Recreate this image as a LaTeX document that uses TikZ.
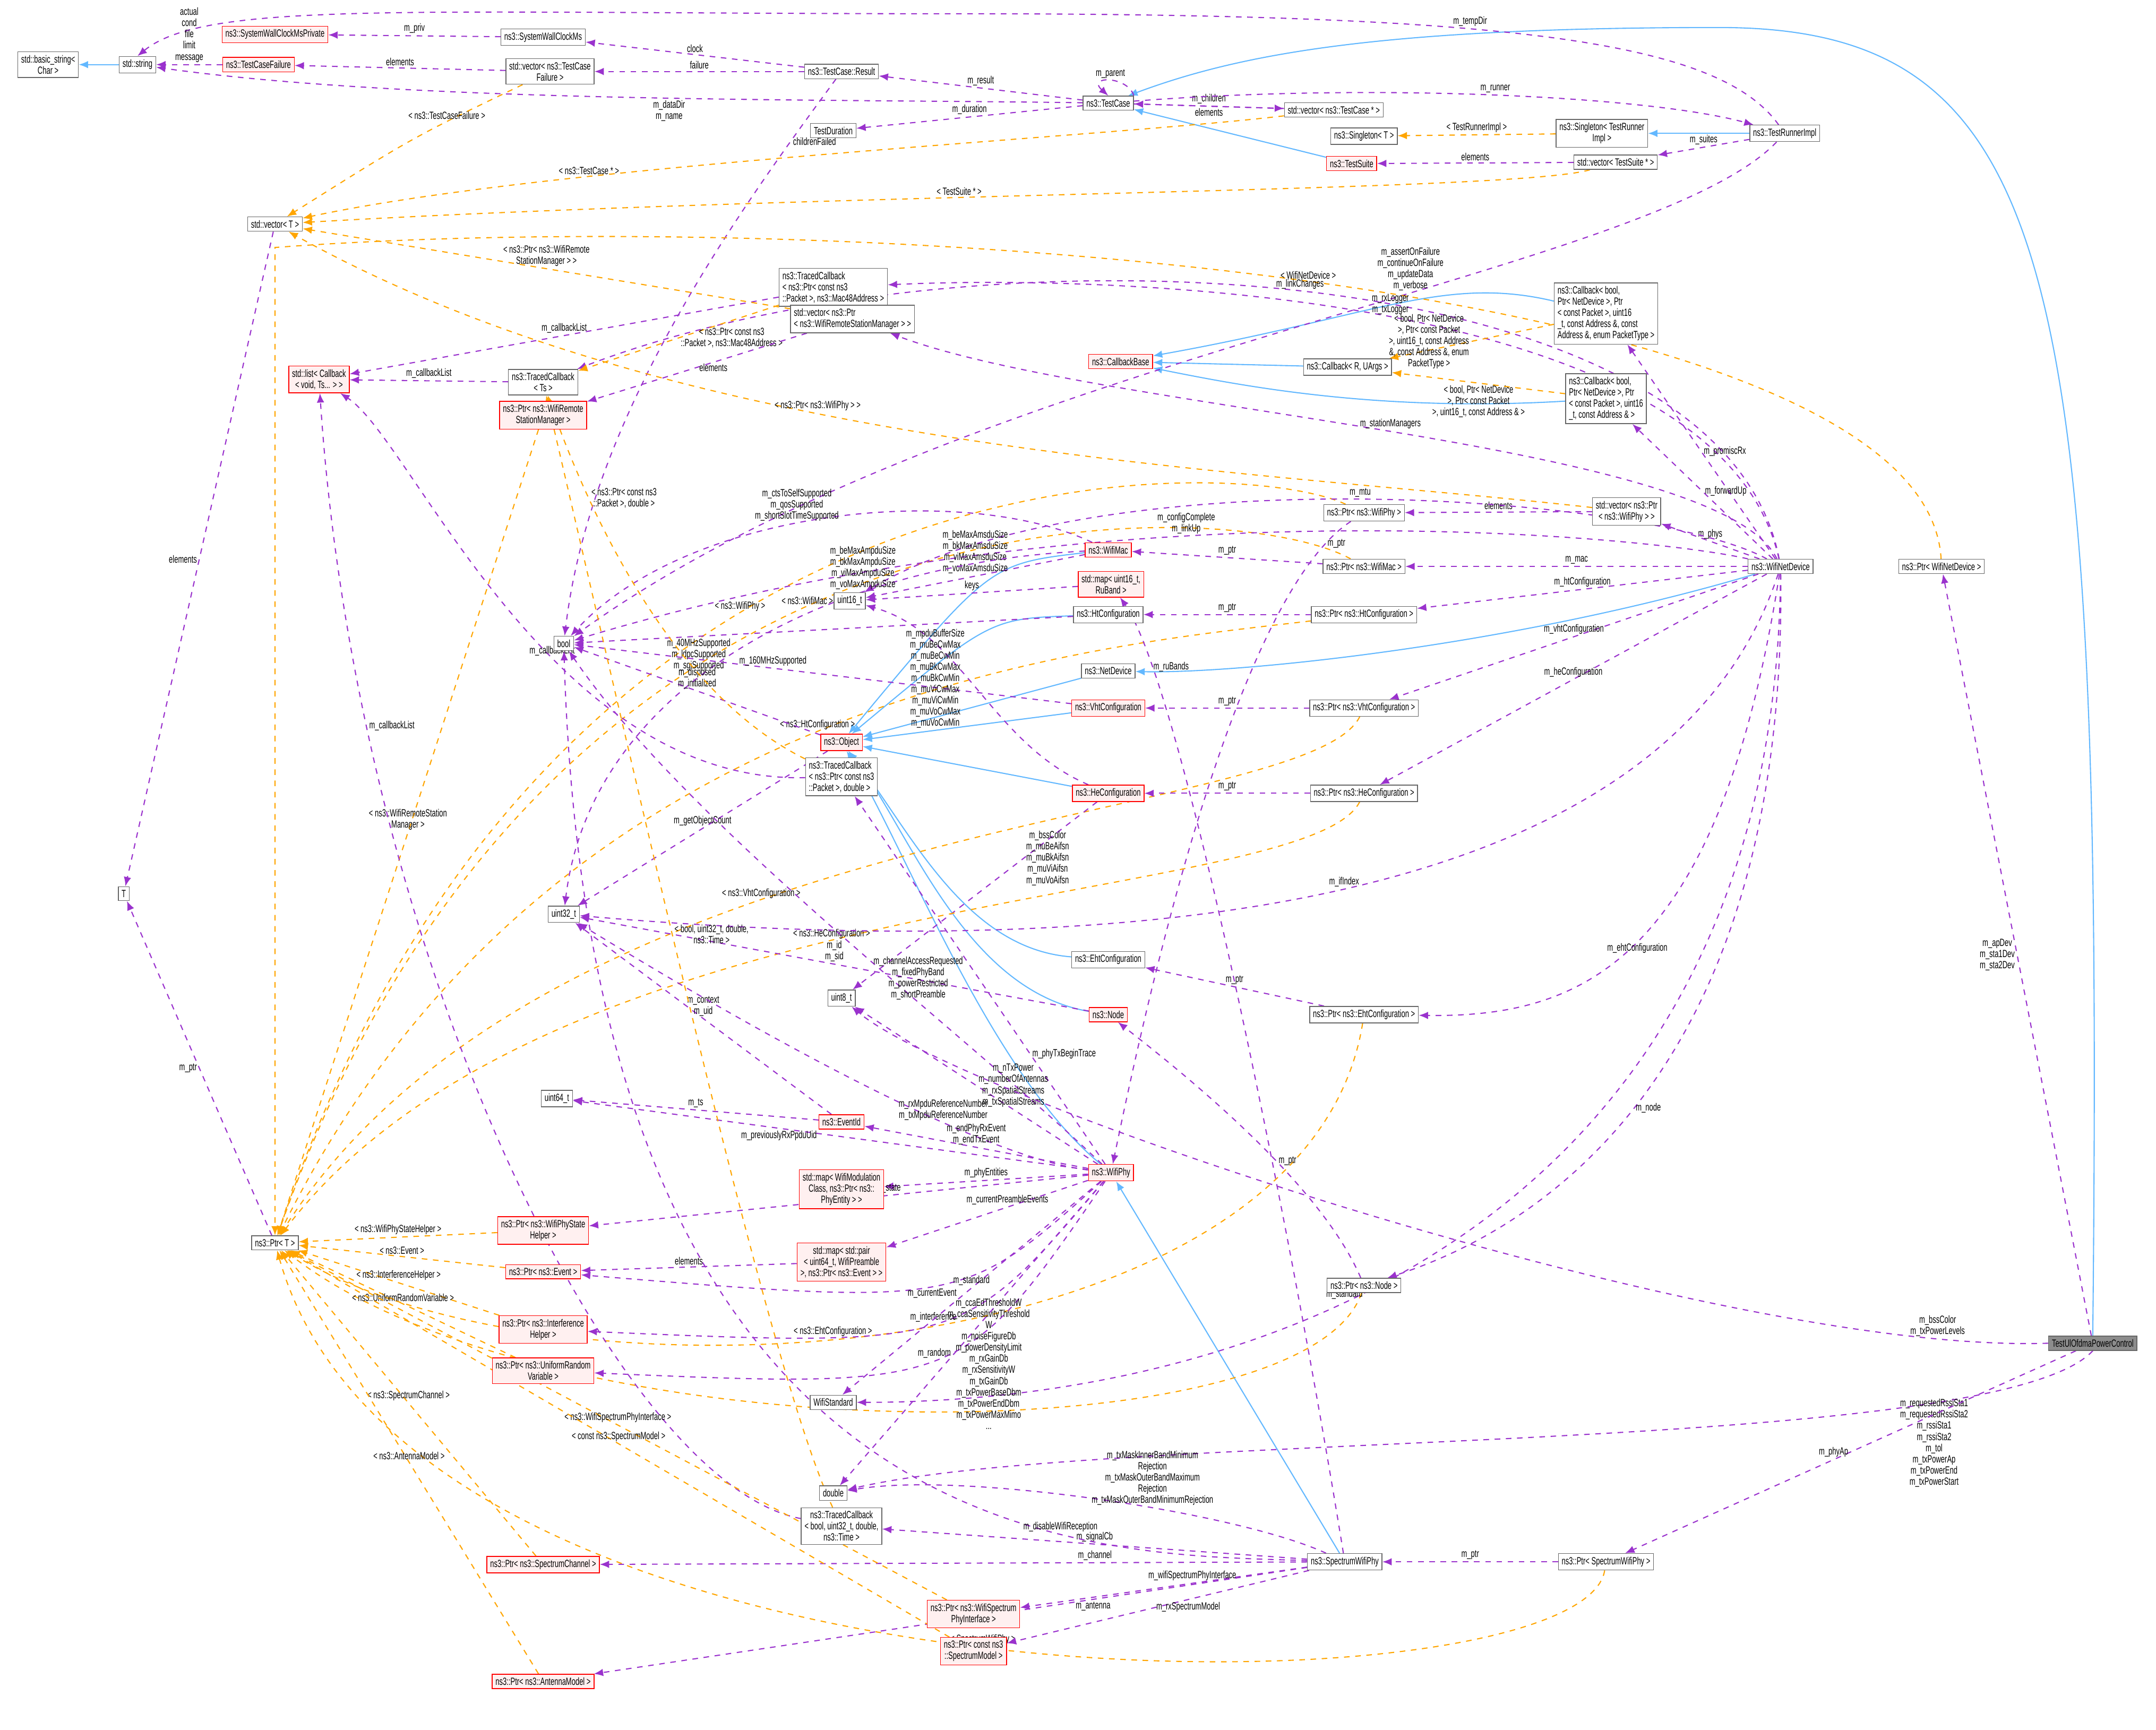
\documentclass[tikz,border=0pt]{standalone}
\usepackage{fontspec}
\setmainfont{Liberation Sans}[FakeStretch=0.66]
\usetikzlibrary{arrows.meta}
\definecolor{mcol}{HTML}{9A32CD}
\definecolor{icol}{HTML}{63B8FF}
\definecolor{tcol}{HTML}{FFA500}
\pgfdeclarelayer{edges}
\pgfsetlayers{edges,main}
\tikzset{
  box/.style={draw=black!60, fill=white, font=\fontsize{5.6}{6}\selectfont, inner sep=1.8pt, align=center},
  rbox/.style={box, draw=red, fill=red!6},
  gbox/.style={box, fill=black!45},
  mem/.style={mcol, dashed, semithick, -{Latex[length=5pt,width=4pt]}},
  inh/.style={icol, semithick, -{Latex[length=5pt,width=4pt]}},
  tpl/.style={tcol, dashed, semithick, -{Latex[length=5pt,width=4pt]}},
  lbl/.style={font=\fontsize{5.6}{6}\selectfont, align=center, inner sep=1pt, text=black}
}
\begin{document}
\begin{tikzpicture}[x=0.0259cm,y=-0.0259cm]
\useasboundingbox (0,0) rectangle (1568,1258);
% test framework
\node[box] (bstr) at (35,47) {std::basic\_string\textless\\Char \textgreater};
\node[box] (str) at (100,47) {std::string};
\node[rbox] (swcp) at (200,25) {ns3::SystemWallClockMsPrivate};
\node[box] (swc) at (395,27) {ns3::SystemWallClockMs};
\node[rbox] (tcf) at (188,47) {ns3::TestCaseFailure};
\node[box] (vtcf) at (400,52) {std::vector\textless{} ns3::TestCase\\Failure \textgreater};
\node[box] (res) at (612,52) {ns3::TestCase::Result};
\node[box] (tc) at (806,75) {ns3::TestCase};
\node[box] (tdur) at (606,95) {TestDuration};
\node[box] (vtc) at (970,80) {std::vector\textless{} ns3::TestCase * \textgreater};
\node[box] (sgt) at (992,99) {ns3::Singleton\textless{} T \textgreater};
\node[box] (sgr) at (1165,97) {ns3::Singleton\textless{} TestRunner\\Impl \textgreater};
\node[box] (tri) at (1298,97) {ns3::TestRunnerImpl};
\node[rbox] (ts) at (983,119) {ns3::TestSuite};
\node[box] (vts) at (1175,118) {std::vector\textless{} TestSuite * \textgreater};
\node[box] (vt) at (200,163) {std::vector\textless{} T \textgreater};
% callbacks
\node[box, align=left] (tcmac) at (606,209) {ns3::TracedCallback\\\textless{} ns3::Ptr\textless{} const ns3\\::Packet \textgreater, ns3::Mac48Address \textgreater};
\node[box, align=left] (vrsm) at (620,232) {std::vector\textless{} ns3::Ptr\\\textless{} ns3::WifiRemoteStationManager \textgreater{} \textgreater};
\node[box, align=left] (cb4) at (1168,228) {ns3::Callback\textless{} bool,\\Ptr\textless{} NetDevice \textgreater, Ptr\\\textless{} const Packet \textgreater, uint16\\\_t, const Address \&, const\\Address \&, enum PacketType \textgreater};
\node[rbox] (cbb) at (815,263) {ns3::CallbackBase};
\node[box] (cbr) at (980,267) {ns3::Callback\textless{} R, UArgs \textgreater};
\node[box, align=left] (cb3) at (1168,290) {ns3::Callback\textless{} bool,\\Ptr\textless{} NetDevice \textgreater, Ptr\\\textless{} const Packet \textgreater, uint16\\\_t, const Address \& \textgreater};
\node[rbox] (lst) at (232,276) {std::list\textless{} Callback\\\textless{} void, Ts... \textgreater{} \textgreater};
\node[box] (tcts) at (395,278) {ns3::TracedCallback\\\textless{} Ts \textgreater};
\node[rbox] (prsm) at (395,302) {ns3::Ptr\textless{} ns3::WifiRemote\\StationManager \textgreater};
% wifi device
\node[box] (vphy) at (1183,372) {std::vector\textless{} ns3::Ptr\\\textless{} ns3::WifiPhy \textgreater{} \textgreater};
\node[box] (pphy) at (992,373) {ns3::Ptr\textless{} ns3::WifiPhy \textgreater};
\node[rbox] (mac) at (806,400) {ns3::WifiMac};
\node[box] (pmac) at (992,412) {ns3::Ptr\textless{} ns3::WifiMac \textgreater};
\node[box] (wnd) at (1295,412) {ns3::WifiNetDevice};
\node[box] (pwnd) at (1412,412) {ns3::Ptr\textless{} WifiNetDevice \textgreater};
\node[rbox] (rub) at (808,425) {std::map\textless{} uint16\_t,\\RuBand \textgreater};
\node[box] (u16) at (618,437) {uint16\_t};
\node[box] (bool) at (410,468) {bool};
\node[box] (ht) at (806,447) {ns3::HtConfiguration};
\node[box] (pht) at (992,447) {ns3::Ptr\textless{} ns3::HtConfiguration \textgreater};
\node[box] (nd) at (806,488) {ns3::NetDevice};
\node[rbox] (vht) at (806,515) {ns3::VhtConfiguration};
\node[box] (pvht) at (992,515) {ns3::Ptr\textless{} ns3::VhtConfiguration \textgreater};
\node[rbox] (obj) at (612,540) {ns3::Object};
\node[box, align=left] (tcpd) at (612,565) {ns3::TracedCallback\\\textless{} ns3::Ptr\textless{} const ns3\\::Packet \textgreater, double \textgreater};
\node[rbox] (he) at (806,577) {ns3::HeConfiguration};
\node[box] (phe) at (992,577) {ns3::Ptr\textless{} ns3::HeConfiguration \textgreater};
\node[box] (t) at (90,650) {T};
\node[box] (u32) at (410,665) {uint32\_t};
\node[box] (eht) at (806,698) {ns3::EhtConfiguration};
\node[box] (u8) at (612,726) {uint8\_t};
\node[rbox] (node) at (806,738) {ns3::Node};
\node[box] (peht) at (992,738) {ns3::Ptr\textless{} ns3::EhtConfiguration \textgreater};
\node[box] (u64) at (405,799) {uint64\_t};
\node[rbox] (eid) at (612,816) {ns3::EventId};
% phy
\node[rbox] (phy) at (808,853) {ns3::WifiPhy};
\node[rbox] (pent) at (612,865) {std::map\textless{} WifiModulation\\Class, ns3::Ptr\textless{} ns3::\\PhyEntity \textgreater{} \textgreater};
\node[box] (pt) at (200,904) {ns3::Ptr\textless{} T \textgreater};
\node[rbox] (psh) at (395,895) {ns3::Ptr\textless{} ns3::WifiPhyState\\Helper \textgreater};
\node[rbox] (pev) at (395,925) {ns3::Ptr\textless{} ns3::Event \textgreater};
\node[rbox] (mpre) at (612,918) {std::map\textless{} std::pair\\\textless{} uint64\_t, WifiPreamble\\\textgreater, ns3::Ptr\textless{} ns3::Event \textgreater{} \textgreater};
\node[box] (pnode) at (992,935) {ns3::Ptr\textless{} ns3::Node \textgreater};
\node[rbox] (pih) at (395,967) {ns3::Ptr\textless{} ns3::Interference\\Helper \textgreater};
\node[gbox] (tul) at (1522,977) {TestUlOfdmaPowerControl};
\node[rbox] (purv) at (395,997) {ns3::Ptr\textless{} ns3::UniformRandom\\Variable \textgreater};
\node[box] (wstd) at (606,1020) {WifiStandard};
\node[box] (dbl) at (606,1086) {double};
\node[box] (tcbd) at (612,1110) {ns3::TracedCallback\\\textless{} bool, uint32\_t, double,\\ns3::Time \textgreater};
\node[rbox] (pchan) at (395,1138) {ns3::Ptr\textless{} ns3::SpectrumChannel \textgreater};
\node[box] (swp) at (978,1136) {ns3::SpectrumWifiPhy};
\node[box] (pswp) at (1168,1136) {ns3::Ptr\textless{} SpectrumWifiPhy \textgreater};
\node[rbox] (pwspi) at (708,1174) {ns3::Ptr\textless{} ns3::WifiSpectrum\\PhyInterface \textgreater};
\node[rbox] (psm) at (708,1201) {ns3::Ptr\textless{} const ns3\\::SpectrumModel \textgreater};
\node[rbox] (pant) at (395,1223) {ns3::Ptr\textless{} ns3::AntennaModel \textgreater};
\begin{pgfonlayer}{edges}
% inheritance
\draw[inh] (str) -- (bstr);
\draw[inh] (ts) -- (tc);
\draw[inh] (tri) -- (sgr);
\draw[inh] (tul.north) .. controls (1530,200) and (1500,20) .. (1250,20) .. controls (1000,20) and (900,40) .. (tc);
\draw[inh] (cb4) .. controls (1050,200) and (1000,230) .. (cbb);
\draw[inh] (cbr) -- (cbb);
\draw[inh] (cb3) .. controls (1000,300) and (900,280) .. (cbb);
\draw[inh] (mac) .. controls (720,410) .. (obj);
\draw[inh] (ht) .. controls (720,450) .. (obj);
\draw[inh] (nd) -- (obj);
\draw[inh] (wnd) .. controls (1100,470) and (900,490) .. (nd);
\draw[inh] (vht) -- (obj);
\draw[inh] (he) -- (obj);
\draw[inh] (eht) .. controls (700,690) and (660,600) .. (obj);
\draw[inh] (node) .. controls (700,720) and (660,600) .. (obj);
\draw[inh] (phy) .. controls (720,780) and (660,620) .. (obj);
\draw[inh] (swp) -- (phy);
% test framework members
\draw[mem] (tc) .. controls (600,72) and (300,75) .. node[lbl,pos=0.45,below]{m\_dataDir\\m\_name} (str);
\draw[mem] (tri) .. controls (1250,30) and (1100,10) .. node[lbl,pos=0.6,above]{m\_tempDir} (700,10) .. controls (300,10) and (150,0) .. (str.north);
\draw[mem] (tcf) -- node[lbl,above]{actual\\cond\\file\\limit\\message} (str);
\draw[mem] (swc) -- node[lbl,above]{m\_priv} (swcp);
\draw[mem] (res) -- node[lbl,above]{clock} (swc);
\draw[mem] (res) -- node[lbl,above]{failure} (vtcf);
\draw[mem] (vtcf) -- node[lbl,above]{elements} (tcf);
\draw[tpl] (vtcf) .. controls (300,100) .. node[lbl,pos=0.3,above]{\textless{} ns3::TestCaseFailure \textgreater} (vt);
\draw[mem] (res) .. controls (540,150) and (430,300) .. node[lbl,pos=0.15,right]{childrenFailed} (bool);
\draw[mem] (tc) -- node[lbl,above]{m\_result} (res);
\draw[mem] (tc.north east) .. controls (820,55) and (790,55) .. node[lbl,above]{m\_parent} (tc.north);
\draw[mem] (tc) -- node[lbl,above]{m\_duration} (tdur);
\draw[mem] (tc) -- node[lbl,above]{m\_children} (vtc);
\draw[mem] (vtc) -- node[lbl,below]{elements} (tc);
\draw[tpl] (vtc) .. controls (800,100) and (400,120) .. node[lbl,pos=0.7,above]{\textless{} ns3::TestCase * \textgreater} (vt);
\draw[mem] (tc) .. controls (1000,60) and (1200,70) .. node[lbl,above]{m\_runner} (tri);
\draw[tpl] (sgr) -- node[lbl,above]{\textless{} TestRunnerImpl \textgreater} (sgt);
\draw[mem] (tri) -- node[lbl,above]{m\_suites} (vts);
\draw[mem] (vts) -- node[lbl,above]{elements} (ts);
\draw[tpl] (vts) .. controls (1100,140) and (600,140) .. node[lbl,pos=0.6,above]{\textless{} TestSuite * \textgreater} (vt);
\draw[mem] (tri) .. controls (1200,200) and (700,260) .. node[lbl,pos=0.4,above]{m\_assertOnFailure\\m\_continueOnFailure\\m\_updateData\\m\_verbose} (bool);
% callbacks
\draw[tpl] (pwnd) .. controls (1400,200) and (600,150) .. node[lbl,pos=0.5,above]{\textless{} WifiNetDevice \textgreater} (200,180) -- (pt);
\draw[mem] (wnd) .. controls (1250,180) and (700,160) .. node[lbl,pos=0.5,above]{m\_linkChanges} (tcts);
\draw[mem] (wnd) .. controls (1250,210) and (800,200) .. node[lbl,pos=0.5,above]{m\_rxLogger\\m\_txLogger} (tcmac);
\draw[tpl] (tcmac) -- node[lbl,pos=0.5,right]{\textless{} ns3::Ptr\textless{} const ns3\\::Packet \textgreater, ns3::Mac48Address \textgreater} (tcts);
\draw[mem] (tcmac) -- node[lbl,above]{m\_callbackList} (lst);
\draw[mem] (tcts) -- node[lbl,above]{m\_callbackList} (lst);
\draw[tpl] (vrsm) -- node[lbl,above]{\textless{} ns3::Ptr\textless{} ns3::WifiRemote\\StationManager \textgreater{} \textgreater} (vt);
\draw[mem] (vrsm) -- node[lbl,right]{elements} (prsm);
\draw[tpl] (prsm) -- node[lbl,above]{\textless{} ns3::WifiRemoteStation\\Manager \textgreater} (pt);
\draw[mem] (wnd) .. controls (1250,320) and (800,300) .. node[lbl,pos=0.5,above]{m\_stationManagers} (vrsm);
\draw[tpl] (cb4) -- node[lbl,left]{\textless{} bool, Ptr\textless{} NetDevice\\\textgreater, Ptr\textless{} const Packet\\\textgreater, uint16\_t, const Address\\\&, const Address \&, enum\\PacketType \textgreater} (cbr);
\draw[tpl] (cb3) -- node[lbl,below]{\textless{} bool, Ptr\textless{} NetDevice\\\textgreater, Ptr\textless{} const Packet\\\textgreater, uint16\_t, const Address \& \textgreater} (cbr);
\draw[mem] (wnd) -- node[lbl,right]{m\_promiscRx} (cb4);
\draw[mem] (wnd) -- node[lbl,right]{m\_forwardUp} (cb3);
% wifi device members
\draw[tpl] (vphy) .. controls (900,340) and (500,330) .. node[lbl,pos=0.6,above]{\textless{} ns3::Ptr\textless{} ns3::WifiPhy \textgreater{} \textgreater} (vt);
\draw[mem] (vphy) -- node[lbl,above]{elements} (pphy);
\draw[mem] (wnd) -- node[lbl,above]{m\_phys} (vphy);
\draw[tpl] (pphy) .. controls (900,330) and (400,310) .. node[lbl,pos=0.6,above]{\textless{} ns3::WifiPhy \textgreater} (pt);
\draw[mem] (pphy) .. controls (920,420) and (860,600) .. node[lbl,pos=0.1,right]{m\_ptr} (phy);
\draw[mem] (pmac) -- node[lbl,above]{m\_ptr} (mac);
\draw[tpl] (pmac) .. controls (900,360) and (400,330) .. node[lbl,pos=0.55,above]{\textless{} ns3::WifiMac \textgreater} (pt);
\draw[mem] (wnd) -- node[lbl,above]{m\_mac} (pmac);
\draw[mem] (wnd) .. controls (1200,360) and (800,330) .. node[lbl,pos=0.5,above]{m\_mtu} (u16);
\draw[mem] (wnd) .. controls (1200,390) and (800,350) .. node[lbl,pos=0.6,above]{m\_configComplete\\m\_linkUp} (bool);
\draw[mem] (mac) .. controls (700,350) and (500,370) .. node[lbl,pos=0.55,above]{m\_ctsToSelfSupported\\m\_qosSupported\\m\_shortSlotTimeSupported} (bool);
\draw[mem] (mac) -- node[lbl,above]{m\_beMaxAmsduSize\\m\_bkMaxAmsduSize\\m\_viMaxAmsduSize\\m\_voMaxAmsduSize} (u16);
\draw[mem] (mac) .. controls (600,410) and (430,500) .. node[lbl,pos=0.3,above]{m\_beMaxAmpduSize\\m\_bkMaxAmpduSize\\m\_viMaxAmpduSize\\m\_voMaxAmpduSize} (u32);
\draw[mem] (rub) -- node[lbl,above]{keys} (u16);
\draw[mem] (ht) -- node[lbl,pos=0.75,below]{m\_40MHzSupported\\m\_ldpcSupported\\m\_sgiSupported} (bool);
\draw[mem] (pht) -- node[lbl,above]{m\_ptr} (ht);
\draw[tpl] (pht) .. controls (800,470) and (400,500) .. node[lbl,pos=0.5,above]{\textless{} ns3::HtConfiguration \textgreater} (pt);
\draw[mem] (wnd) -- node[lbl,above]{m\_htConfiguration} (pht);
\draw[mem] (vht) -- node[lbl,pos=0.6,above]{m\_160MHzSupported} (bool);
\draw[mem] (pvht) -- node[lbl,above]{m\_ptr} (vht);
\draw[tpl] (pvht) .. controls (950,600) and (400,590) .. node[lbl,pos=0.6,above]{\textless{} ns3::VhtConfiguration \textgreater} (pt);
\draw[mem] (wnd) -- node[lbl,above]{m\_vhtConfiguration} (pvht);
\draw[mem] (obj) -- node[lbl,above]{m\_disposed\\m\_initialized} (bool);
\draw[mem] (obj) -- node[lbl,above]{m\_getObjectCount} (u32);
\draw[mem] (tcpd) .. controls (400,570) and (300,320) .. node[lbl,pos=0.4,above]{m\_callbackList} (lst);
\draw[tpl] (tcpd) .. controls (480,500) and (420,350) .. node[lbl,pos=0.7,right]{\textless{} ns3::Ptr\textless{} const ns3\\::Packet \textgreater, double \textgreater} (tcts);
\draw[mem] (he) .. controls (720,540) and (700,460) .. node[lbl,pos=0.55,left]{m\_mpduBufferSize\\m\_muBeCwMax\\m\_muBeCwMin\\m\_muBkCwMax\\m\_muBkCwMin\\m\_muViCwMax\\m\_muViCwMin\\m\_muVoCwMax\\m\_muVoCwMin} (u16);
\draw[mem] (he) -- node[lbl,pos=0.3,right]{m\_bssColor\\m\_muBeAifsn\\m\_muBkAifsn\\m\_muViAifsn\\m\_muVoAifsn} (u8);
\draw[mem] (phe) -- node[lbl,above]{m\_ptr} (he);
\draw[tpl] (phe) .. controls (950,660) and (400,640) .. node[lbl,pos=0.55,above]{\textless{} ns3::HeConfiguration \textgreater} (pt);
\draw[mem] (wnd) -- node[lbl,above]{m\_heConfiguration} (phe);
\draw[mem] (vt) -- node[lbl,left]{elements} (t);
\draw[mem] (pt) -- node[lbl,left]{m\_ptr} (t);
\draw[mem] (wnd) .. controls (1200,700) and (700,690) .. node[lbl,pos=0.45,above]{m\_ifIndex} (u32);
\draw[mem] (peht) -- node[lbl,above]{m\_ptr} (eht);
\draw[tpl] (peht) .. controls (950,1000) and (400,1030) .. node[lbl,pos=0.55,above]{\textless{} ns3::EhtConfiguration \textgreater} (pt);
\draw[mem] (wnd) .. controls (1250,700) and (1150,740) .. node[lbl,pos=0.5,below]{m\_ehtConfiguration} (peht);
\draw[mem] (node) -- node[lbl,above]{m\_id\\m\_sid} (u32);
\draw[mem] (pnode) .. controls (960,860) and (860,780) .. node[lbl,pos=0.4,right]{m\_ptr} (node);
\draw[tpl] (pnode) .. controls (950,1060) and (400,1060) .. node[lbl,pos=0.55,above]{\textless{} ns3::Node \textgreater} (pt);
\draw[mem] (wnd) .. controls (1300,800) and (1100,900) .. node[lbl,pos=0.5,right]{m\_node} (pnode);
\draw[mem] (wnd) .. controls (1290,900) and (900,1020) .. node[lbl,pos=0.6,above]{m\_standard} (wstd);
\draw[mem] (eid) -- node[lbl,above]{m\_context\\m\_uid} (u32);
\draw[mem] (eid) -- node[lbl,above]{m\_ts} (u64);
% phy members
\draw[mem] (phy) -- node[lbl,pos=0.3,right]{m\_phyTxBeginTrace} (tcpd);
\draw[mem] (phy) .. controls (700,750) and (500,600) .. node[lbl,pos=0.35,above]{m\_channelAccessRequested\\m\_fixedPhyBand\\m\_powerRestricted\\m\_shortPreamble} (bool);
\draw[mem] (phy) .. controls (700,840) and (500,720) .. node[lbl,pos=0.3,above]{m\_rxMpduReferenceNumber\\m\_txMpduReferenceNumber} (u32);
\draw[mem] (phy) -- node[lbl,pos=0.5,right]{m\_nTxPower\\m\_numberOfAntennas\\m\_rxSpatialStreams\\m\_txSpatialStreams} (u8);
\draw[mem] (phy) -- node[lbl,above]{m\_endPhyRxEvent\\m\_endTxEvent} (eid);
\draw[mem] (phy) -- node[lbl,pos=0.6,below]{m\_previouslyRxPpduUid} (u64);
\draw[mem] (phy) -- node[lbl,above]{m\_phyEntities} (pent);
\draw[mem] (phy) -- node[lbl,pos=0.4,above]{m\_state} (psh);
\draw[mem] (phy) -- node[lbl,pos=0.4,above]{m\_currentPreambleEvents} (mpre);
\draw[mem] (phy) .. controls (700,950) .. node[lbl,pos=0.5,below]{m\_currentEvent} (pev);
\draw[mem] (phy) .. controls (700,980) .. node[lbl,pos=0.5,above]{m\_interference} (pih);
\draw[mem] (phy) .. controls (700,1010) .. node[lbl,pos=0.5,above]{m\_random} (purv);
\draw[mem] (phy) -- node[lbl,pos=0.5,above]{m\_standard} (wstd);
\draw[mem] (phy) -- node[lbl,pos=0.6,right]{m\_ccaEdThresholdW\\m\_ccaSensitivityThreshold\\W\\m\_noiseFigureDb\\m\_powerDensityLimit\\m\_rxGainDb\\m\_rxSensitivityW\\m\_txGainDb\\m\_txPowerBaseDbm\\m\_txPowerEndDbm\\m\_txPowerMaxMimo\\...} (dbl);
\draw[mem] (mpre) -- node[lbl,above]{elements} (pev);
\draw[tpl] (psh) -- node[lbl,above]{\textless{} ns3::WifiPhyStateHelper \textgreater} (pt);
\draw[tpl] (pev) -- node[lbl,above]{\textless{} ns3::Event \textgreater} (pt);
\draw[tpl] (pih) -- node[lbl,above]{\textless{} ns3::InterferenceHelper \textgreater} (pt);
\draw[tpl] (purv) -- node[lbl,above]{\textless{} ns3::UniformRandomVariable \textgreater} (pt);
% test members
\draw[mem] (tul) -- node[lbl,left]{m\_apDev\\m\_sta1Dev\\m\_sta2Dev} (pwnd);
\draw[mem] (tul.west) .. controls (1250,985) and (700,800) .. node[lbl,pos=0.1,above]{m\_bssColor\\m\_txPowerLevels} (u8);
\draw[mem] (tul.south) .. controls (1450,1060) and (800,1040) .. node[lbl,pos=0.18,below left]{m\_requestedRssiSta1\\m\_requestedRssiSta2\\m\_rssiSta1\\m\_rssiSta2\\m\_tol\\m\_txPowerAp\\m\_txPowerEnd\\m\_txPowerStart} (dbl);
\draw[mem] (tul) -- node[lbl,pos=0.5,left]{m\_phyAp} (pswp);
\draw[mem] (pswp) -- node[lbl,above]{m\_ptr} (swp);
\draw[tpl] (pswp) .. controls (1150,1250) and (300,1260) .. node[lbl,pos=0.5,above]{\textless{} SpectrumWifiPhy \textgreater} (pt);
% spectrum phy members
\draw[mem] (swp) .. controls (900,1100) and (700,1070) .. node[lbl,pos=0.4,above]{m\_txMaskInnerBandMinimum\\Rejection\\m\_txMaskOuterBandMaximum\\Rejection\\m\_txMaskOuterBandMinimumRejection} (dbl);
\draw[mem] (swp) -- node[lbl,above]{m\_signalCb} (tcbd);
\draw[mem] (swp) -- node[lbl,pos=0.3,above]{m\_channel} (pchan);
\draw[mem] (swp) .. controls (800,1130) and (430,1140) .. node[lbl,pos=0.3,above]{m\_disableWifiReception} (bool);
\draw[mem] (swp) -- node[lbl,pos=0.4,above]{m\_wifiSpectrumPhyInterface} (pwspi);
\draw[mem] (swp) -- node[lbl,pos=0.4,below]{m\_rxSpectrumModel} (psm);
\draw[mem] (swp) -- node[lbl,pos=0.3,below]{m\_antenna} (pant);
\draw[mem] (swp) .. controls (940,900) and (860,500) .. node[lbl,pos=0.85,right]{m\_ruBands} (rub);
\draw[mem] (tcbd) .. controls (450,1080) and (260,700) .. node[lbl,pos=0.8,right]{m\_callbackList} (lst);
\draw[tpl] (tcbd) .. controls (560,1000) and (470,600) .. node[lbl,pos=0.6,right]{\textless{} bool, uint32\_t, double,\\ns3::Time \textgreater} (tcts);
\draw[tpl] (pchan) -- node[lbl,above]{\textless{} ns3::SpectrumChannel \textgreater} (pt);
\draw[tpl] (pwspi) -- node[lbl,above]{\textless{} ns3::WifiSpectrumPhyInterface \textgreater} (pt);
\draw[tpl] (psm) -- node[lbl,above]{\textless{} const ns3::SpectrumModel \textgreater} (pt);
\draw[tpl] (pant) -- node[lbl,above]{\textless{} ns3::AntennaModel \textgreater} (pt);
\end{pgfonlayer}
\end{tikzpicture}
\end{document}
